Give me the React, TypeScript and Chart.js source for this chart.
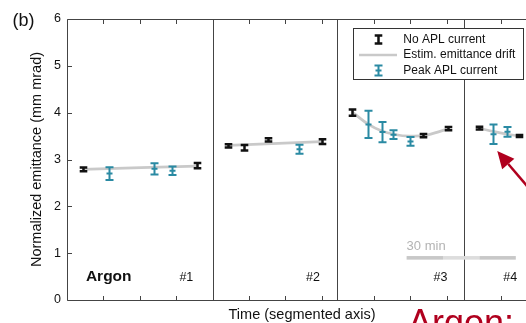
import React, { useEffect, useRef } from "react";
import Chart from "chart.js/auto";

// ---------- data ----------
// x axis: minutes along a segmented time axis (one tick = 10 min)
const segmentStarts = [0, 40, 74.3, 109.2];
const axisMax = 126.1;
const tickStep = 10;
const yTicks = [0, 1, 2, 3, 4, 5, 6];

// No APL current (segment index, local time in min, emittance, error)
const noAplSeg = [0, 0, 1, 1, 1, 1, 2, 2, 2, 3, 3];
const noAplTime = [4.3, 35.6, 4.3, 8.6, 15.3, 30.0, 4.1, 23.6, 30.5, 4.0, 15.1];
const noAplValue = [2.79, 2.87, 3.29, 3.25, 3.42, 3.38, 4.0, 3.51, 3.66, 3.67, 3.5];
const noAplErr = [0.04, 0.057, 0.035, 0.058, 0.036, 0.05, 0.065, 0.035, 0.035, 0.03, 0.022];

// Peak APL current
const peakSeg = [0, 0, 0, 1, 2, 2, 2, 2, 3, 3];
const peakTime = [11.6, 23.9, 28.9, 23.8, 8.5, 12.3, 15.2, 19.9, 7.7, 11.8];
const peakValue = [2.7, 2.8, 2.76, 3.22, 3.75, 3.585, 3.53, 3.385, 3.54, 3.59];
const peakErr = [0.136, 0.122, 0.089, 0.096, 0.29, 0.217, 0.093, 0.093, 0.21, 0.104];

// Estimated emittance drift, per segment
const driftTime = [
  [4.3, 35.6],
  [4.3, 30.0],
  [4.1, 8.5, 12.2, 15.4, 19.9, 23.6, 27.3, 30.5],
  [4.0, 7.7, 11.8, 15.1],
];
const driftValue = [
  [2.79, 2.86],
  [3.3, 3.38],
  [4.01, 3.75, 3.61, 3.54, 3.5, 3.51, 3.58, 3.66],
  [3.67, 3.6, 3.54, 3.5],
];

const segmentLabels = ["#1", "#2", "#3", "#4"];
const segmentLabelTime = [34.7, 29.5, 30.2, 14.5];
const segmentLabelY = 0.475;
const gasLabel = "Argon";
const gasLabelPos = { x: 5.2, y: 0.49 };
const scaleBarStart = 93.3; // axis minutes
const scaleBarMinutes = 30;
const scaleBarY = 0.9;
const scaleBarText = "30 min";
const arrowTail = { x: 126.1, y: 2.46 };
const arrowTip = { x: 118.2, y: 3.18 };

const legendItems = ["No APL current", "Estim. emittance drift", "Peak APL current"];
const yTitle = "Normalized emittance (mm mrad)";
const xTitle = "Time (segmented axis)";
const panelLabel = "(b)";
const bigLabel = "Argon:";

// ---------- styles ----------
const FONT = "'Liberation Sans', Arial, Helvetica, sans-serif";
const BLACK = "#111111";
const TEAL = "#2a8aa3";
const DRIFT = "#c9c9c9";
const AXIS = "#444444";
const RED = "#b0001e";

const W = 526;
const H = 323;

function toPoints(seg: number[], t: number[], v: number[], e: number[]) {
  return t.map((tt, i) => ({ x: segmentStarts[seg[i]] + tt, y: v[i], e: e[i] }));
}

const overlay = {
  id: "overlay",
  afterDatasetsDraw(chart: any) {
    const { ctx, scales } = chart;
    const x = scales.x;
    const y = scales.y;
    chart.data.datasets.forEach((ds: any) => {
      if (!ds.errKind) return;
      const teal = ds.errKind === "peak";
      ctx.save();
      ctx.strokeStyle = teal ? TEAL : BLACK;
      ctx.lineWidth = teal ? 2 : 2.5;
      ctx.lineCap = "butt";
      const cap = teal ? 4 : 3.8;
      ds.data.forEach((p: any) => {
        const px = Math.round(x.getPixelForValue(p.x)) + 0.5;
        const top = y.getPixelForValue(p.y + p.e);
        const bot = y.getPixelForValue(p.y - p.e);
        const mid = y.getPixelForValue(p.y);
        ctx.beginPath();
        ctx.moveTo(px, top);
        ctx.lineTo(px, bot);
        ctx.moveTo(px - cap, top);
        ctx.lineTo(px + cap, top);
        ctx.moveTo(px - cap, bot);
        ctx.lineTo(px + cap, bot);
        if (teal) {
          ctx.moveTo(px - 3, mid);
          ctx.lineTo(px + 3, mid);
        }
        ctx.stroke();
      });
      ctx.restore();
    });
  },
  afterDraw(chart: any) {
    const { ctx, chartArea: a, scales } = chart;
    const x = scales.x;
    const y = scales.y;
    ctx.save();

    // segment separators
    ctx.strokeStyle = AXIS;
    ctx.lineWidth = 1;
    segmentStarts.slice(1).forEach((s) => {
      const px = Math.round(x.getPixelForValue(s)) + 0.5;
      ctx.beginPath();
      ctx.moveTo(px, a.top);
      ctx.lineTo(px, a.bottom);
      ctx.stroke();
    });

    // frame (left, top, bottom)
    const L = Math.round(a.left) + 0.5;
    const T = Math.round(a.top) + 0.5;
    const B = Math.round(a.bottom) + 0.5;
    ctx.beginPath();
    ctx.moveTo(a.right, T);
    ctx.lineTo(L, T);
    ctx.lineTo(L, B);
    ctx.lineTo(a.right, B);
    ctx.stroke();

    // inward ticks on x (top & bottom)
    const tl = 4.5;
    segmentStarts.forEach((s, i) => {
      const next = i + 1 < segmentStarts.length ? segmentStarts[i + 1] : axisMax;
      for (let t = s + tickStep; t < next - 0.5 && t <= axisMax; t += tickStep) {
        const px = Math.round(x.getPixelForValue(t)) + 0.5;
        ctx.beginPath();
        ctx.moveTo(px, B);
        ctx.lineTo(px, B - tl);
        ctx.moveTo(px, T);
        ctx.lineTo(px, T + tl);
        ctx.stroke();
      }
    });
    // inward ticks on y
    yTicks.forEach((v) => {
      const py = Math.round(y.getPixelForValue(v)) + 0.5;
      ctx.beginPath();
      ctx.moveTo(L, py);
      ctx.lineTo(L + tl, py);
      ctx.stroke();
    });

    // segment labels
    ctx.fillStyle = "#111";
    ctx.textBaseline = "middle";
    ctx.textAlign = "right";
    ctx.font = `12.5px ${FONT}`;
    segmentLabels.forEach((lab, i) => {
      ctx.fillText(
        lab,
        x.getPixelForValue(segmentStarts[i] + segmentLabelTime[i]),
        y.getPixelForValue(segmentLabelY)
      );
    });
    ctx.textAlign = "left";
    ctx.font = `bold 15.5px ${FONT}`;
    ctx.fillText(gasLabel, x.getPixelForValue(gasLabelPos.x), y.getPixelForValue(gasLabelPos.y));

    // 30 min scale bar
    const sbY = y.getPixelForValue(scaleBarY);
    const thirds = 3;
    for (let k = 0; k < thirds; k++) {
      const x0 = x.getPixelForValue(scaleBarStart + (k * scaleBarMinutes) / thirds);
      const x1 = x.getPixelForValue(scaleBarStart + ((k + 1) * scaleBarMinutes) / thirds);
      ctx.fillStyle = k === 1 ? "#dddddd" : "#c8c8c8";
      ctx.fillRect(x0, sbY - 1.8, x1 - x0, 3.6);
    }
    ctx.fillStyle = "#b3b3b3";
    ctx.font = `13px ${FONT}`;
    ctx.textAlign = "left";
    ctx.fillText(scaleBarText, x.getPixelForValue(scaleBarStart), sbY - 11);

    // legend
    const lx = 353.5, ly = 28.5, lw = 170, lh = 51;
    ctx.fillStyle = "#fff";
    ctx.fillRect(lx, ly, lw, lh);
    ctx.strokeStyle = "#333";
    ctx.lineWidth = 1;
    ctx.strokeRect(lx, ly, lw, lh);
    const rows = [39.5, 55, 70.5];
    const sx = 378.5;
    // black I
    ctx.strokeStyle = BLACK;
    ctx.lineWidth = 2.5;
    ctx.beginPath();
    ctx.moveTo(sx, rows[0] - 4);
    ctx.lineTo(sx, rows[0] + 4);
    ctx.moveTo(sx - 3.8, rows[0] - 4);
    ctx.lineTo(sx + 3.8, rows[0] - 4);
    ctx.moveTo(sx - 3.8, rows[0] + 4);
    ctx.lineTo(sx + 3.8, rows[0] + 4);
    ctx.stroke();
    // drift line
    ctx.strokeStyle = DRIFT;
    ctx.lineWidth = 2.5;
    ctx.beginPath();
    ctx.moveTo(359, rows[1]);
    ctx.lineTo(397, rows[1]);
    ctx.stroke();
    // teal
    ctx.strokeStyle = TEAL;
    ctx.lineWidth = 2;
    ctx.beginPath();
    ctx.moveTo(sx, rows[2] - 5);
    ctx.lineTo(sx, rows[2] + 5);
    ctx.moveTo(sx - 4, rows[2] - 5);
    ctx.lineTo(sx + 4, rows[2] - 5);
    ctx.moveTo(sx - 4, rows[2] + 5);
    ctx.lineTo(sx + 4, rows[2] + 5);
    ctx.moveTo(sx - 3, rows[2]);
    ctx.lineTo(sx + 3, rows[2]);
    ctx.stroke();
    ctx.fillStyle = "#111";
    ctx.font = `12px ${FONT}`;
    ctx.textBaseline = "middle";
    legendItems.forEach((t, i) => ctx.fillText(t, 403.3, rows[i]));

    // axis titles
    ctx.fillStyle = "#111";
    ctx.font = `14.5px ${FONT}`;
    ctx.textAlign = "center";
    ctx.textBaseline = "alphabetic";
    ctx.fillText(xTitle, 302, 318.5);
    ctx.save();
    ctx.translate(40.5, (a.top + a.bottom) / 2);
    ctx.rotate(-Math.PI / 2);
    ctx.textBaseline = "alphabetic";
    ctx.fillText(yTitle, 0, 0);
    ctx.restore();

    // panel label
    ctx.textAlign = "left";
    ctx.font = `18px ${FONT}`;
    ctx.fillText(panelLabel, 12.5, 26);

    // red annotation
    ctx.fillStyle = RED;
    ctx.font = `36px ${FONT}`;
    ctx.fillText(bigLabel, 408, 335);
    const tx = x.getPixelForValue(arrowTip.x), ty = y.getPixelForValue(arrowTip.y);
    const fx = x.getPixelForValue(arrowTail.x), fy = y.getPixelForValue(arrowTail.y);
    const ang = Math.atan2(ty - fy, tx - fx);
    const hl = 17, hw = 8;
    const bx = tx - hl * Math.cos(ang), by = ty - hl * Math.sin(ang);
    ctx.strokeStyle = RED;
    ctx.lineWidth = 2.5;
    ctx.beginPath();
    ctx.moveTo(fx + 5, fy + 5 * Math.tan(ang));
    ctx.lineTo(bx, by);
    ctx.stroke();
    ctx.beginPath();
    ctx.moveTo(tx, ty);
    ctx.lineTo(bx + hw * Math.sin(ang), by - hw * Math.cos(ang));
    ctx.lineTo(bx - hw * Math.sin(ang), by + hw * Math.cos(ang));
    ctx.closePath();
    ctx.fill();

    ctx.restore();
  },
};

export default function App() {
  const ref = useRef<HTMLCanvasElement | null>(null);
  useEffect(() => {
    if (!ref.current) return;
    const driftSets = driftTime.map((ts, s) => ({
      type: "line" as const,
      data: ts.map((t, i) => ({ x: segmentStarts[s] + t, y: driftValue[s][i] })),
      borderColor: DRIFT,
      borderWidth: 2.7,
      pointRadius: 0,
      tension: ts.length > 2 ? 0.4 : 0,
      cubicInterpolationMode: "monotone" as const,
      fill: false,
    }));
    const chart = new Chart(ref.current, {
      type: "scatter",
      data: {
        datasets: [
          ...driftSets,
          {
            data: toPoints(noAplSeg, noAplTime, noAplValue, noAplErr),
            pointRadius: 0,
            errKind: "noapl",
          } as any,
          {
            data: toPoints(peakSeg, peakTime, peakValue, peakErr),
            pointRadius: 0,
            errKind: "peak",
          } as any,
        ],
      },
      options: {
        animation: false,
        responsive: false,
        events: [],
        layout: { padding: { left: 0, top: 19, right: 0, bottom: 0 } },
        plugins: { legend: { display: false }, tooltip: { enabled: false } },
        scales: {
          x: {
            type: "linear",
            min: 0,
            max: axisMax,
            grid: { display: false, drawTicks: false },
            border: { display: false },
            ticks: { display: false },
            afterFit: (s: any) => {
              s.height = 23;
            },
          },
          y: {
            type: "linear",
            min: 0,
            max: 6,
            grid: { display: false, drawTicks: false },
            border: { display: false },
            ticks: {
              stepSize: 1,
              padding: 6,
              color: "#111",
              font: { family: FONT, size: 12.5 },
            },
            afterFit: (s: any) => {
              s.width = 67;
            },
          },
        },
      },
      plugins: [overlay],
    });
    return () => chart.destroy();
  }, []);
  return (
    <div style={{ position: "fixed", left: 0, top: 0, width: W, height: H, background: "#fff" }}>
      <canvas ref={ref} width={W} height={H} style={{ width: W, height: H, display: "block" }} />
    </div>
  );
}
